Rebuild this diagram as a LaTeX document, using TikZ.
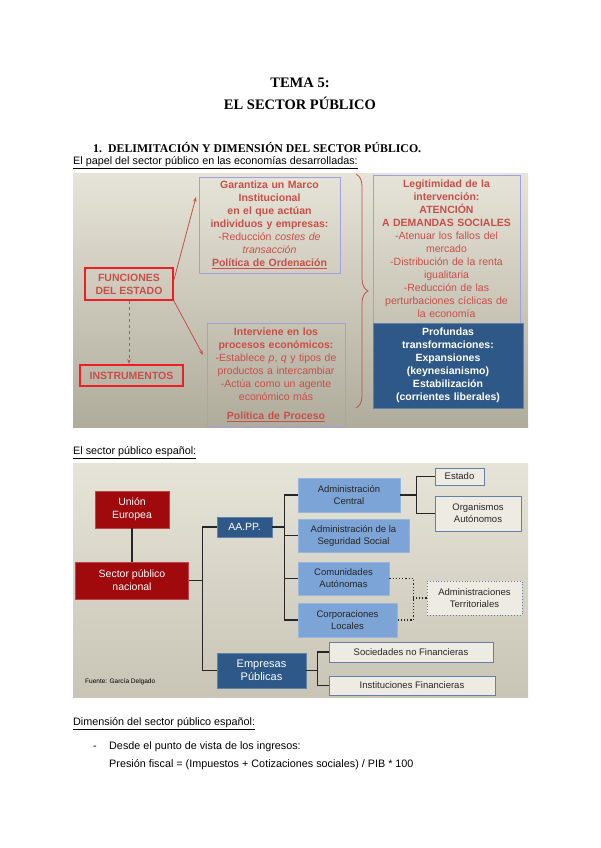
\documentclass[tikz,border=0pt]{standalone}
\usepackage{fontspec}
\setmainfont{Liberation Sans}
\newfontfamily\titlefont{Liberation Serif}
\usepackage{xcolor}
\usetikzlibrary{arrows.meta, positioning, calc, decorations.pathreplacing}
\definecolor{tema-red}{RGB}{200,78,74}
\definecolor{tema-alarm}{RGB}{240,30,35}
\definecolor{tema-lilac}{RGB}{160,160,222}
\definecolor{tema-navy}{RGB}{46,88,136}
\definecolor{tema-wine}{RGB}{160,10,12}
\definecolor{tema-sky}{RGB}{124,164,214}
\definecolor{tema-steel}{RGB}{100,128,170}
\definecolor{tema-paper}{RGB}{238,236,226}
\definecolor{tema-top}{RGB}{230,228,216}
\definecolor{tema-low}{RGB}{176,172,156}
\definecolor{tema-low2}{RGB}{200,197,182}

\begin{document}
\begin{tikzpicture}[x=1pt, y=1pt,
  frame/.style={draw=tema-lilac, line width=0.8pt, align=center, inner sep=1pt, text=tema-red, font=\fontsize{10.5}{13}\selectfont},
  redframe/.style={draw=tema-alarm, line width=1.8pt, align=center, inner sep=1pt, text=tema-red, font=\fontsize{10.5}{13}\selectfont\bfseries},
  navybox/.style={fill=tema-navy, draw=tema-navy!75!white, line width=0.6pt, text=white, align=center, inner sep=1pt},
  winebox/.style={fill=tema-wine, draw=tema-wine!75!white, line width=0.6pt, text=white, align=center, inner sep=1pt, font=\fontsize{10.5}{13}\selectfont},
  skybox/.style={fill=tema-sky, draw=tema-sky!80!white, line width=0.6pt, text=black!85, align=center, inner sep=1pt, font=\fontsize{9.5}{12}\selectfont},
  palebox/.style={fill=tema-paper, draw=tema-steel, line width=0.9pt, text=black!85, align=center, inner sep=1pt, font=\fontsize{9.5}{12}\selectfont},
  link/.style={draw=black!85, line width=1.2pt},
  dots/.style={draw=black!85, line width=1.2pt, dotted},
  redarrow/.style={-{Stealth[length=5pt, width=3.5pt]}, draw=tema-red, line width=0.8pt},
  prose/.style={anchor=west, inner sep=0pt, font=\fontsize{10.8}{12}\selectfont},
]
  \useasboundingbox (0,0) rectangle (600,-848);

  % Headings
  \node[align=center, font=\titlefont\bfseries\fontsize{14.5}{22}\selectfont] (title) at (300,-94) {TEMA 5:\\EL SECTOR PÚBLICO};
  \node[anchor=west, inner sep=0pt, font=\titlefont\bfseries\fontsize{11.8}{13}\selectfont] (sec1) at (93,-148) {\makebox[15pt][l]{1.}DELIMITACIÓN Y DIMENSIÓN DEL SECTOR PÚBLICO.};
  \node[prose] (papel) at (73,-163) {\underline{El papel del sector público en las economías desarrolladas:}};

  % Panel 1 - funciones
  \shade[top color=tema-top, bottom color=tema-low] (73,-173) rectangle (528,-427);
  \node[frame, text width=139pt, minimum height=96pt] (marco) at (269.5,-225) {\textbf{Garantiza un Marco}\\ \textbf{Institucional}\\ \textbf{en el que actúan}\\ \textbf{individuos y empresas:}\\ -Reducción \textit{costes de}\\ \textit{transacción}\\ \underline{\textbf{Política de Ordenación}}};
  \node[frame, text width=136pt, minimum height=104pt] (proceso) at (276,-375) {\textbf{Interviene en los}\\ \textbf{procesos económicos:}\\ -Establece \textit{p}, \textit{q} y tipos de\\ productos a intercambiar\\ -Actúa como un agente\\ económico más\\[6pt] \underline{\textbf{Política de Proceso}}};
  \node[redframe, minimum width=88pt, minimum height=32pt] (func) at (129,-284) {FUNCIONES\\DEL ESTADO};
  \node[redframe, minimum width=103pt, minimum height=21pt] (instr) at (131.5,-375.5) {INSTRUMENTOS};
  \node[frame, text width=145pt, minimum height=148pt] (legit) at (446.5,-249) {\textbf{Legitimidad de la}\\ \textbf{intervención:}\\ \textbf{ATENCIÓN}\\ \textbf{A DEMANDAS SOCIALES}\\ -Atenuar los fallos del\\ mercado\\ -Distribución de la renta\\ igualitaria\\ -Reducción de las\\ perturbaciones cíclicas de\\ la economía};
  \node[navybox, text width=148pt, minimum height=85pt, font=\fontsize{10.5}{13}\selectfont\bfseries] (transf) at (448,-365.5) {Profundas\\ transformaciones:\\ Expansiones\\ (keynesianismo)\\ Estabilización\\ (corrientes liberales)};

  \coordinate (marcotip) at (196,-197);
  \coordinate (procesotip) at (203,-355);
  \draw[redarrow] ([yshift=4pt]func.east) -- (marcotip);
  \draw[redarrow] (func.south east) -- (procesotip);
  \draw[redarrow, dashed] (func.south) -- (func.south |- instr.north);
  \draw[tema-red, line width=0.8pt, decorate, decoration={brace, amplitude=12pt}] (356,-174) -- (356,-408);

  % Panel 2 - sector publico espanol
  \node[prose] (espanol) at (73,-453) {\underline{El sector público español:}};
  \shade[top color=tema-top, bottom color=tema-low2] (73,-463) rectangle (528,-697);
  \node[winebox, minimum width=74pt, minimum height=37pt] (ue) at (132,-509.5) {Unión\\Europea};
  \node[winebox, minimum width=113pt, minimum height=37pt] (spn) at (132,-580.5) {Sector público\\nacional};
  \node[navybox, minimum width=55pt, minimum height=20pt, font=\fontsize{10.5}{13}\selectfont] (aapp) at (244.5,-527) {AA.PP.};
  \node[navybox, minimum width=89pt, minimum height=35pt, font=\fontsize{11}{13}\selectfont] (empub) at (261.5,-670.5) {Empresas\\Públicas};
  \node[skybox, minimum width=102pt, minimum height=34pt] (central) at (349,-495) {Administración\\Central};
  \node[skybox, minimum width=111pt, minimum height=33pt] (segsoc) at (353.5,-535.5) {Administración de la\\Seguridad Social};
  \node[skybox, minimum width=91pt, minimum height=33pt] (ccaa) at (343.5,-578.5) {Comunidades\\Autónomas};
  \node[skybox, minimum width=99pt, minimum height=34pt] (locales) at (347.5,-620) {Corporaciones\\Locales};
  \node[palebox, minimum width=49pt, minimum height=17pt] (estado) at (459.5,-476.5) {Estado};
  \node[palebox, minimum width=86pt, minimum height=35pt] (oa) at (478,-513.5) {Organismos\\Autónomos};
  \node[palebox, dotted, minimum width=95pt, minimum height=34pt] (territ) at (474.5,-598) {Administraciones\\Territoriales};
  \node[palebox, minimum width=164pt, minimum height=20pt] (snf) at (411,-652) {Sociedades no Financieras};
  \node[palebox, minimum width=166pt, minimum height=19pt] (ifin) at (412,-685.5) {Instituciones Financieras};
  \node[anchor=west, inner sep=0pt, font=\fontsize{6.5}{8}\selectfont] (fuente) at (85,-682) {Fuente: García Delgado};

  \draw[link] (ue) -- (spn);
  \draw[link] (aapp.west) -- ++(-14pt,0) coordinate (t1) |- (empub.west);
  \draw[link] (spn.east) -- (spn.east -| t1);
  \draw[link] (central.west) -- ++(-13pt,0) coordinate (t2) |- (locales.west);
  \draw[link] (aapp.east) -- (aapp.east -| t2);
  \draw[link] (segsoc.west) -- (segsoc.west -| t2);
  \draw[link] (ccaa.west) -- (ccaa.west -| t2);
  \draw[link] (estado.west) -- ++(-18pt,0) coordinate (t3) |- (oa.west);
  \draw[link] (central.east) -- (central.east -| t3);
  \draw[dots] (ccaa.east) -- ++(24pt,0) coordinate (t4) |- (locales.east);
  \draw[dots] (territ.west) -- (territ.west -| t4);
  \draw[link] (snf.west) -- ++(-11pt,0) coordinate (t5) |- (ifin.west);
  \draw[link] (empub.east) -- (empub.east -| t5);

  % Dimension
  \node[prose] (dimension) at (73,-724) {\underline{Dimensión del sector público español:}};
  \node[prose, anchor=base west] (guion) at (93,-749) {-};
  \node[prose, anchor=base west] (ingresos) at (109,-749) {Desde el punto de vista de los ingresos:};
  \node[prose, anchor=base west] (presion) at (109,-767) {Presión fiscal = (Impuestos + Cotizaciones sociales) / PIB * 100};
\end{tikzpicture}
\end{document}
